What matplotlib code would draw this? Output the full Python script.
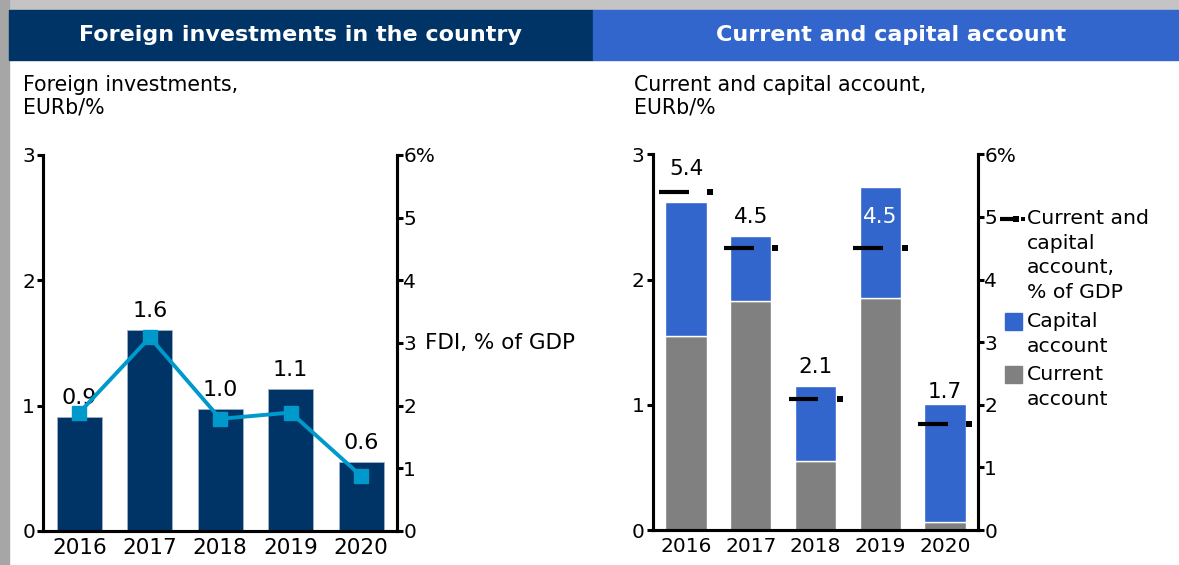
import matplotlib
matplotlib.use("Agg")
import matplotlib.pyplot as plt
from matplotlib.patches import Rectangle
from matplotlib.lines import Line2D
from matplotlib.transforms import blended_transform_factory

# data
years = ["2016", "2017", "2018", "2019", "2020"]
fdi_eurb = [0.91, 1.60, 0.97, 1.13, 0.55]
fdi_labels = ["0.9", "1.6", "1.0", "1.1", "0.6"]
fdi_pct_gdp = [1.89, 3.09, 1.79, 1.89, 0.88]

current_account = [1.55, 1.83, 0.55, 1.85, 0.06]
capital_account = [1.07, 0.52, 0.60, 0.89, 0.945]
cca_pct_gdp = [5.4, 4.5, 2.1, 4.5, 1.7]
cca_labels = ["5.4", "4.5", "2.1", "4.5", "1.7"]

left_ticks = [0, 1, 2, 3]
right_ticks = [0, 1, 2, 3, 4, 5, 6]
right_ticklabels = ["0", "1", "2", "3", "4", "5", "6%"]

NAVY = "#003366"
LIGHT = "#0099CC"
BLUE = "#3366CC"
GRAY = "#808080"

W, H = 1179, 565
plt.rcParams["font.family"] = ["DejaVu Sans"]


def fx(x):
    return x / W


def fy(y):
    return 1 - y / H


def style_axes(ax, ax_r, xsize):
    ax.set_xlim(-0.51, 4.51)
    ax.set_ylim(0, 3)
    ax_r.set_ylim(0, 6)
    for a in (ax, ax_r):
        a.spines["top"].set_visible(False)
        for s in ("left", "right", "bottom"):
            a.spines[s].set_linewidth(2.2)
            a.spines[s].set_color("black")
        a.set_facecolor("none")
    ax.set_xticks(range(len(years)), years)
    ax.set_yticks(left_ticks, [str(t) for t in left_ticks])
    ax_r.set_yticks(right_ticks, right_ticklabels)
    ax.tick_params(axis="x", length=0, pad=5, labelsize=xsize)
    ax.tick_params(axis="y", length=4.5, width=2.2, pad=1.5, labelsize=14.5)
    ax_r.tick_params(axis="y", length=4, width=2.2, pad=0.5, labelsize=14.5)


fig = plt.figure(figsize=(W / 100, H / 100), dpi=100)

# frame and headers
fig.patches.append(Rectangle((0, fy(10)), 1, 10 / H, transform=fig.transFigure,
                             color="#c4c4c4", zorder=0))
fig.patches.append(Rectangle((0, 0), fx(9), 1, transform=fig.transFigure,
                             color="#a6a6a6", zorder=0))
fig.patches.append(Rectangle((fx(9), fy(60)), fx(584), 50 / H, transform=fig.transFigure,
                             color=NAVY, zorder=1))
fig.patches.append(Rectangle((fx(593), fy(60)), fx(586), 50 / H, transform=fig.transFigure,
                             color=BLUE, zorder=1))
fig.text(fx(300), fy(35), "Foreign investments in the country", color="white",
         fontsize=16, fontweight="bold", ha="center", va="center")
fig.text(fx(891), fy(35), "Current and capital account", color="white",
         fontsize=16, fontweight="bold", ha="center", va="center")

fig.text(fx(23), fy(75), "Foreign investments,\nEURb/%", fontsize=14.8,
         ha="left", va="top", linespacing=1.15)
fig.text(fx(634), fy(75), "Current and capital account,\nEURb/%", fontsize=14.8,
         ha="left", va="top", linespacing=1.15)

x = list(range(len(years)))

# left panel: foreign investments
ax1 = fig.add_axes([fx(43.5), fy(531), fx(397 - 43.5), (531 - 155) / H])
ax1b = ax1.twinx()
style_axes(ax1, ax1b, 15.5)
ax1.bar(x, fdi_eurb, width=0.64, color=NAVY, edgecolor="#9fb3c8", linewidth=0.6)
for i, (v, lab) in enumerate(zip(fdi_eurb, fdi_labels)):
    ax1.annotate(lab, (i, v), xytext=(0, 14), textcoords="offset points",
                 ha="center", va="center", fontsize=16)
ax1b.plot(x, fdi_pct_gdp, color=LIGHT, linewidth=2.8, marker="s", markersize=9.5)
tr1 = blended_transform_factory(ax1b.transAxes, ax1b.transData)
ax1b.annotate("FDI, % of GDP", (1, 3), xycoords=tr1, xytext=(20, 0),
              textcoords="offset points", ha="left", va="center", fontsize=15.5)

# right panel: current and capital account
ax2 = fig.add_axes([fx(653), fy(530), fx(978 - 653), (530 - 154.3) / H])
ax2b = ax2.twinx()
style_axes(ax2, ax2b, 14.5)
ax2.bar(x, current_account, width=0.64, color=GRAY, edgecolor="white", linewidth=1)
ax2.bar(x, capital_account, bottom=current_account, width=0.64, color=BLUE,
        edgecolor="white", linewidth=1)
for i, v in enumerate(cca_pct_gdp):
    ax2b.plot([i - 0.415, i + 0.045], [v, v], color="black", linewidth=3,
              solid_capstyle="butt", clip_on=False)
    ax2b.plot([i + 0.377], [v], marker="s", markersize=4, color="black",
              markeredgewidth=0, clip_on=False)
for i, (v, lab) in enumerate(zip(cca_pct_gdp, cca_labels)):
    ly = min(v + 0.5, 5.77)
    total = current_account[i] + capital_account[i]
    col = "white" if ly / 2 < total else "black"
    ax2b.text(i, ly, lab, ha="center", va="center", fontsize=15.5, color=col)

# legend for right panel
fig.add_artist(Line2D([fx(1000), fx(1013)], [fy(219), fy(219)], color="black",
                      linewidth=3, solid_capstyle="butt"))
fig.add_artist(Line2D([fx(1015.5)], [fy(219)], marker="s", markersize=4.5,
                      markeredgewidth=0, color="black"))
fig.add_artist(Line2D([fx(1022.5)], [fy(219)], marker="s", markersize=3.5,
                      markeredgewidth=0, color="black"))
fig.text(fx(1027), fy(209), "Current and\ncapital\naccount,\n% of GDP", fontsize=14.7,
         ha="left", va="top", linespacing=1.38)
fig.patches.append(Rectangle((fx(1005), fy(330)), fx(17), 17 / H, transform=fig.transFigure,
                             color=BLUE))
fig.text(fx(1027), fy(312), "Capital\naccount", fontsize=14.7, ha="left", va="top",
         linespacing=1.38)
fig.patches.append(Rectangle((fx(1005), fy(383)), fx(17), 17 / H, transform=fig.transFigure,
                             color=GRAY))
fig.text(fx(1027), fy(365), "Current\naccount", fontsize=14.7, ha="left", va="top",
         linespacing=1.38)

fig.savefig("out.png", dpi=100)
